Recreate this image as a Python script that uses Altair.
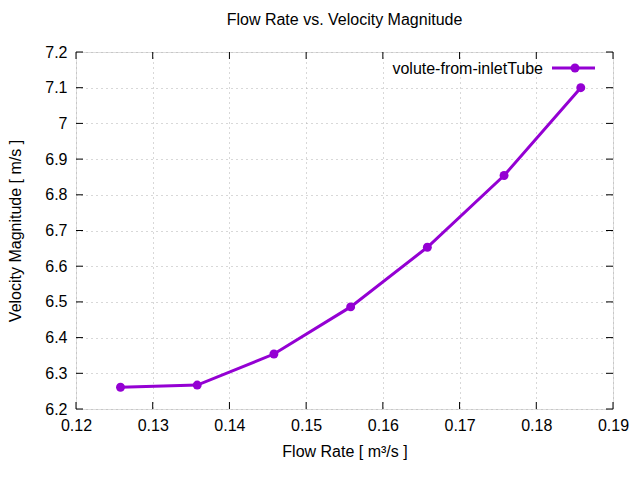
import altair as alt
import pandas as pd

flow_rate = [0.1258, 0.1358, 0.1458, 0.1558, 0.1658, 0.1758, 0.1858]
velocity = [6.261, 6.267, 6.354, 6.486, 6.653, 6.854, 7.100]
series_name = "volute-from-inletTube"
x_ticks = [0.12, 0.13, 0.14, 0.15, 0.16, 0.17, 0.18, 0.19]
y_ticks = [6.2, 6.3, 6.4, 6.5, 6.6, 6.7, 6.8, 6.9, 7.0, 7.1, 7.2]

W, H = 537, 357
FONT = "Liberation Sans"
FS = 16
COLOR = "#9400D3"

df = pd.DataFrame({"q": flow_rate, "v": velocity})
xt = pd.DataFrame({"t": x_ticks})
yt = pd.DataFrame({"t": y_ticks})

xscale = alt.Scale(domain=[0.12, 0.19], nice=False, zero=False)
yscale = alt.Scale(domain=[6.2, 7.2], nice=False, zero=False)

xaxis = alt.Axis(values=x_ticks, format=".2f", tickSize=0, labelPadding=8,
                 grid=True, gridDash=[1, 4], gridColor="#b0b0b0",
                 domain=False, title="Flow Rate [ m\u00b3/s ]",
                 titleX=W / 2, titleY=42, titleBaseline="middle",
                 titleFont=FONT, titleFontSize=FS, titleFontWeight="normal",
                 labelFont=FONT, labelFontSize=FS, labelColor="black",
                 titleColor="black", labelFlush=False, labelOverlap=False)
yaxis = alt.Axis(values=y_ticks, format=".1~f", tickSize=0, labelPadding=9,
                 grid=True, gridDash=[1, 4], gridColor="#b0b0b0",
                 domain=False, title="Velocity Magnitude [ m/s ]",
                 titleX=-61, titleY=H / 2, titleBaseline="middle", titleAngle=-90,
                 titleFont=FONT, titleFontSize=FS, titleFontWeight="normal",
                 labelFont=FONT, labelFontSize=FS, labelColor="black",
                 titleColor="black", labelFlush=False, labelOverlap=False)

line = alt.Chart(df).mark_line(color=COLOR, strokeWidth=3).encode(
    x=alt.X("q:Q", scale=xscale, axis=xaxis),
    y=alt.Y("v:Q", scale=yscale, axis=yaxis),
)
pts = alt.Chart(df).mark_circle(color=COLOR, size=80, opacity=1).encode(
    x=alt.X("q:Q", scale=xscale, axis=xaxis),
    y=alt.Y("v:Q", scale=yscale, axis=yaxis),
)

tl = 7
xt_bot = alt.Chart(xt).mark_rule(color="black", strokeWidth=1).encode(
    x=alt.X("t:Q", scale=xscale, axis=xaxis), y=alt.value(H), y2=alt.value(H - tl))
xt_top = alt.Chart(xt).mark_rule(color="black", strokeWidth=1).encode(
    x=alt.X("t:Q", scale=xscale, axis=xaxis), y=alt.value(0), y2=alt.value(tl))
yt_left = alt.Chart(yt).mark_rule(color="black", strokeWidth=1).encode(
    y=alt.Y("t:Q", scale=yscale, axis=yaxis), x=alt.value(0), x2=alt.value(tl))
yt_right = alt.Chart(yt).mark_rule(color="black", strokeWidth=1).encode(
    y=alt.Y("t:Q", scale=yscale, axis=yaxis), x=alt.value(W), x2=alt.value(W - tl))

leg = pd.DataFrame({"name": [series_name]})
leg_text = alt.Chart(leg).mark_text(align="right", baseline="middle", font=FONT,
                                    fontSize=FS, color="black").encode(
    text="name:N", x=alt.value(467), y=alt.value(17))
leg_line = alt.Chart(leg).mark_rule(color=COLOR, strokeWidth=3).encode(
    x=alt.value(476), x2=alt.value(519), y=alt.value(16))
leg_pt = alt.Chart(leg).mark_circle(color=COLOR, size=80, opacity=1).encode(
    x=alt.value(499), y=alt.value(16))

chart = alt.layer(line, pts, xt_bot, xt_top, yt_left, yt_right,
                  leg_text, leg_line, leg_pt).properties(
    width=W, height=H,
    autosize=alt.AutoSizeParams(type="none"),
    padding={"left": 68, "top": 44, "right": 19, "bottom": 63},
    title=alt.TitleParams("Flow Rate vs. Velocity Magnitude", font=FONT,
                          fontSize=FS, fontWeight="normal", color="black",
                          anchor="middle", offset=16),
).configure_view(stroke="black", strokeWidth=1).configure(background="white")

chart.save("out.html", embed_options={"renderer": "svg", "actions": False})
